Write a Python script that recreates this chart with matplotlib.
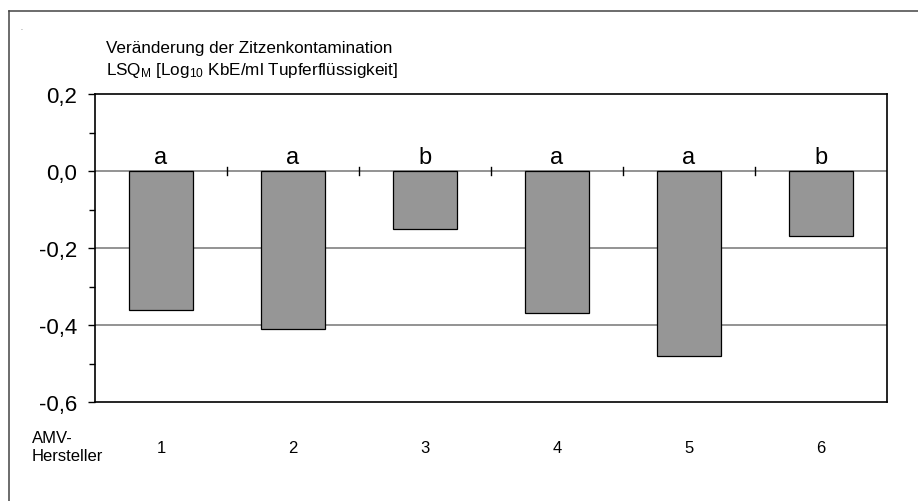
import matplotlib
matplotlib.use("Agg")
import matplotlib.pyplot as plt
from matplotlib.lines import Line2D
import numpy as np

plt.rcParams['font.family'] = ['Liberation Sans', 'DejaVu Sans']
plt.rcParams['mathtext.fontset'] = 'custom'
plt.rcParams['mathtext.rm'] = 'Liberation Sans'
plt.rcParams['mathtext.it'] = 'Liberation Sans'

categories = ['1', '2', '3', '4', '5', '6']
values = [-0.36, -0.41, -0.15, -0.37, -0.48, -0.17]
letters = ['a', 'a', 'b', 'a', 'a', 'b']
yticks = [0.2, 0.0, -0.2, -0.4, -0.6]
yticklabels = ['0,2', '0,0', '-0,2', '-0,4', '-0,6']
title_line1 = 'Veränderung der Zitzenkontamination'
title_line2 = r'LSQ$_\mathregular{M}$ [Log$_\mathregular{10}$ KbE/ml Tupferflüssigkeit]'
xaxis_label = 'AMV-\nHersteller'

W, H = 918, 502
fig = plt.figure(figsize=(W / 100, H / 100), dpi=100)

ax = fig.add_axes([95 / W, (H - 403) / H, 792 / W, 308 / H])
x = np.arange(len(categories))
ax.set_xlim(-0.5, len(categories) - 0.5)
ax.set_ylim(-0.6, 0.2)

# gridlines
for gy in [0.0, -0.2, -0.4]:
    ax.axhline(gy, color='#808080', lw=1.2, zorder=1)

ax.bar(x, values, width=0.485, color='#969696', edgecolor='black', linewidth=0.9, zorder=3)

# category separator ticks on zero line
for b in np.arange(0.5, len(categories) - 0.5, 1.0):
    ax.plot([b, b], [-0.01, 0.01], color='black', lw=1.0, zorder=4)

for xi, lt in zip(x, letters):
    ax.text(xi, 0.022, lt, ha='center', va='baseline', fontsize=17, zorder=5)

ax.set_yticks(yticks)
ax.set_yticklabels(yticklabels, fontsize=16)
ax.set_yticks([0.1, -0.1, -0.3, -0.5], minor=True)
ax.tick_params(axis='y', which='major', direction='out', length=5, width=1.0, pad=8)
ax.tick_params(axis='y', which='minor', direction='out', length=4, width=1.0)
ax.set_xticks([])
for s in ax.spines.values():
    s.set_color('black')
    s.set_linewidth(1.2)

# x category labels
for xi, c in zip(x, categories):
    ax.annotate(c, (xi, -0.6), xycoords='data', xytext=(0, -46), textcoords='offset pixels',
                ha='center', va='center', fontsize=12, annotation_clip=False)

fig.text(32 / W, 1 - 448 / H, xaxis_label, ha='left', va='center', fontsize=12, linespacing=1.25)

fig.text(106 / W, 1 - 48 / H, title_line1, ha='left', va='center', fontsize=12.3)
fig.text(106 / W, 1 - 70 / H, title_line2, ha='left', va='center', fontsize=12.3)

fig.text(21 / W, 1 - 29 / H, '.', ha='center', va='center', fontsize=5, color='#555555')

# outer frame (top and left only)
fig.add_artist(Line2D([9 / W, 1.0], [1 - 12 / H, 1 - 12 / H], transform=fig.transFigure,
                      color='#444444', lw=1.1))
fig.add_artist(Line2D([9 / W, 9 / W], [1 - 12 / H, 0.0], transform=fig.transFigure,
                      color='#444444', lw=1.1))

fig.savefig('out.png', dpi=100)
